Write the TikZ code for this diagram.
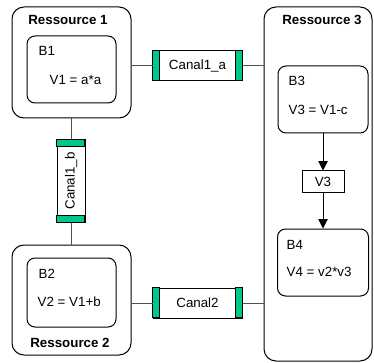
\documentclass[tikz,border=0pt]{standalone}
\usepackage{fontspec}
\setmainfont{Liberation Sans}
\usetikzlibrary{arrows.meta,calc,positioning}
\definecolor{canaltab}{RGB}{0,199,140}
\definecolor{linkgray}{RGB}{80,80,80}
\tikzset{
  ressource/.style={draw,rounded corners=9pt,line width=0.75pt,inner sep=0pt},
  bloc/.style={draw,rounded corners=6pt,line width=0.75pt,inner sep=0pt},
  canal/.style={draw,line width=0.75pt,inner sep=0pt},
  lien/.style={draw=linkgray,line width=0.75pt},
  fleche/.style={line width=0.75pt,-{Triangle[width=7pt,length=7pt]}},
  titre/.style={font=\bfseries},
}
% box at center (#3,#4), size #5 x #6 in pixels
\newcommand{\boiteat}[6]{%
  \node[#1,minimum width=#5*0.75pt,minimum height=#6*0.75pt] (#2) at (#3,#4) {};%
}
\newcommand{\canalh}[4]{%
  \node[canal,minimum width=89*0.75pt,minimum height=30*0.75pt] (#1) at (#2,#3) {#4};%
  \draw[fill=canaltab,line width=0.75pt] (#1.north west) rectangle ++(7,30);%
  \draw[fill=canaltab,line width=0.75pt] (#1.north east) rectangle ++(-7,30);%
}
\newcommand{\canalv}[4]{%
  \node[canal,minimum width=28*0.75pt,minimum height=82*0.75pt] (#1) at (#2,#3) {\rotatebox{90}{#4}};%
  \draw[fill=canaltab,line width=0.75pt] (#1.north west) rectangle ++(28,7);%
  \draw[fill=canaltab,line width=0.75pt] (#1.south west) rectangle ++(28,-7);%
}

\begin{document}
\begin{tikzpicture}[x=0.75pt,y=-0.75pt]
  \useasboundingbox (0,0) rectangle (374,363);
  % ressources
  \boiteat{ressource}{res1}{71.5}{62.5}{119}{111}
  \boiteat{ressource}{res2}{71.5}{300}{119}{110}
  \boiteat{ressource}{res3}{318}{184}{108}{354}
  \node[titre] (t1) at (68,20) {Ressource 1};
  \node[titre] (t2) at (70,343) {Ressource 2};
  \node[titre] (t3) at (322,20) {Ressource 3};
  % blocs
  \boiteat{bloc}{b1}{71.5}{69.5}{89}{67}
  \boiteat{bloc}{b2}{71.5}{292.5}{89}{69}
  \boiteat{bloc}{b3}{323}{99.5}{90}{67}
  \boiteat{bloc}{b4}{323}{262.5}{91}{67}
  \node[anchor=west] (b1n) at (34,51) {B1};
  \node[anchor=west] (b1v) at (45,80) {V1 = a*a};
  \node[anchor=west] (b2n) at (34,274) {B2};
  \node[anchor=west] (b2v) at (33,302) {V2 = V1+b};
  \node[anchor=west] (b3n) at (284,81) {B3};
  \node[anchor=west] (b3v) at (284,110) {V3 = V1-c};
  \node[anchor=west] (b4n) at (282,245) {B4};
  \node[anchor=west] (b4v) at (282,272) {V4 = v2*v3};
  % variable V3
  \node[canal,minimum width=42*0.75pt,minimum height=22*0.75pt] (v3) at (323,182) {V3};
  \draw[fleche] (b3.south) -- (v3.north);
  \draw[fleche] (v3.south) -- (b4.north);
  % canaux
  \canalh{canal1a}{197.5}{66}{Canal1\_a}
  \canalh{canal2}{197.5}{303}{Canal2}
  \canalv{canal1b}{71}{181}{Canal1\_b}
  \draw[lien] (canal1a.west) -- (canal1a.west -| res1.east);
  \draw[lien] (canal1a.east) -- (canal1a.east -| res3.west);
  \draw[lien] (canal2.west) -- (canal2.west -| res2.east);
  \draw[lien] (canal2.east) -- (canal2.east -| res3.west);
  \draw[lien] (canal1b.north) -- (canal1b.north |- res1.south);
  \draw[lien] (canal1b.south) -- (canal1b.south |- res2.north);
\end{tikzpicture}
\end{document}
